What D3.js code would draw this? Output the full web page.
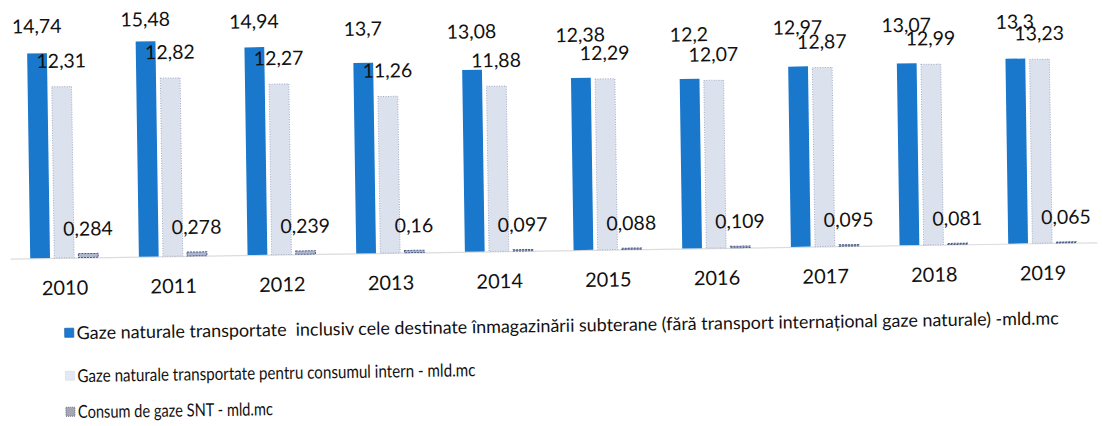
<!DOCTYPE html>
<html><head><meta charset="utf-8">
<script src="https://cdn.jsdelivr.net/npm/d3@7"></script>
<style>body{margin:0;background:#fff;} svg{display:block;}</style>
</head><body>
<svg id="c" width="1103" height="426"></svg>
<script>
const years = ["2010","2011","2012","2013","2014","2015","2016","2017","2018","2019"];
const transported = [14.74,15.48,14.94,13.7,13.08,12.38,12.2,12.97,13.07,13.3];
const internal = [12.31,12.82,12.27,11.26,11.88,12.29,12.07,12.87,12.99,13.23];
const sntConsumption = [0.284,0.278,0.239,0.16,0.097,0.088,0.109,0.095,0.081,0.065];
const seriesNames = [
  "Gaze naturale transportate  inclusiv cele destinate înmagazinării subterane (fără transport internațional gaze naturale) -mld.mc",
  "Gaze naturale transportate pentru consumul intern - mld.mc",
  "Consum de gaze SNT - mld.mc"
];

const fmt = v => String(v).replace(".", ",");
const series = [transported, internal, sntConsumption];

const svg = d3.select("#c");
const root = svg.append("g").attr("transform", "rotate(-0.86 551 213)");

const x0 = d3.scaleBand().domain(years).range([9.6, 1096.4]).padding(0);
const x1 = d3.scaleBand().domain([0,1,2]).range([20, 88]).paddingInner(0.18);
const y = d3.scaleLinear().domain([0, 18]).range([250.5, 0.3]);
const labelY = d3.scaleLinear().domain([0, 18]).range([130.8, 2.1]);

// axis
const ax = root.append("g").attr("transform", `translate(0,${y(0)})`)
  .call(d3.axisBottom(x0).tickSize(0).tickSizeOuter(0));
ax.select(".domain").attr("stroke", "#dcdcdc").attr("stroke-width", 1.2);
ax.selectAll("text").attr("y", 37).attr("dy", 0)
  .attr("font-family", "Lato, sans-serif").attr("font-size", 20).attr("fill", "#111");

const fills = ["#1977cc", "#dce1ee", "#aeb7d0"];
const strokes = ["none", "#a3adc6", "#4d5c85"];
const dashes = [null, "1,1.5", "2,1"];

series.forEach((vals, si) => {
  const g = root.append("g");
  g.selectAll("rect").data(vals).join("rect")
    .attr("x", (d, i) => x0(years[i]) + x1(si))
    .attr("width", x1.bandwidth())
    .attr("y", d => y(d))
    .attr("height", d => y(0) - y(d))
    .attr("fill", fills[si])
    .attr("stroke", strokes[si])
    .attr("stroke-width", 1)
    .attr("stroke-dasharray", dashes[si]);
});

// value labels
series.forEach((vals, si) => {
  root.append("g").selectAll("text").data(vals).join("text")
    .attr("x", (d, i) => x0(years[i]) + x1(si) + x1.bandwidth() / 2)
    .attr("y", d => si === 0 ? labelY(d) : y(d) - (si === 1 ? 19 : 18))
    .attr("text-anchor", "middle")
    .attr("font-family", "Lato, sans-serif")
    .attr("font-size", 19.5)
    .attr("fill", "#111")
    .text(d => fmt(d));
});

// legend
const legendRows = [332, 375, 411];
const legendWidths = [982, 398, 195];
const markerFill = ["#1f78d0", "#e3e8f2", "#a4a6b4"];
const markerStroke = ["#1566b5", "#c6cede", "#555a6a"];
const lg = root.append("g");
seriesNames.forEach((name, i) => {
  lg.append("rect").attr("x", 63).attr("y", legendRows[i] - 11).attr("width", 9).attr("height", 9)
    .attr("fill", markerFill[i]).attr("stroke", markerStroke[i]).attr("stroke-width", 0.8)
    .attr("stroke-dasharray", i === 0 ? null : "1,1");
  lg.append("text").attr("x", 75).attr("y", legendRows[i])
    .attr("font-family", "Lato, sans-serif").attr("font-size", 18).attr("fill", "#111")
    .attr("textLength", legendWidths[i]).attr("lengthAdjust", "spacingAndGlyphs")
    .style("white-space", "pre")
    .text(name);
});
</script>
</body></html>
